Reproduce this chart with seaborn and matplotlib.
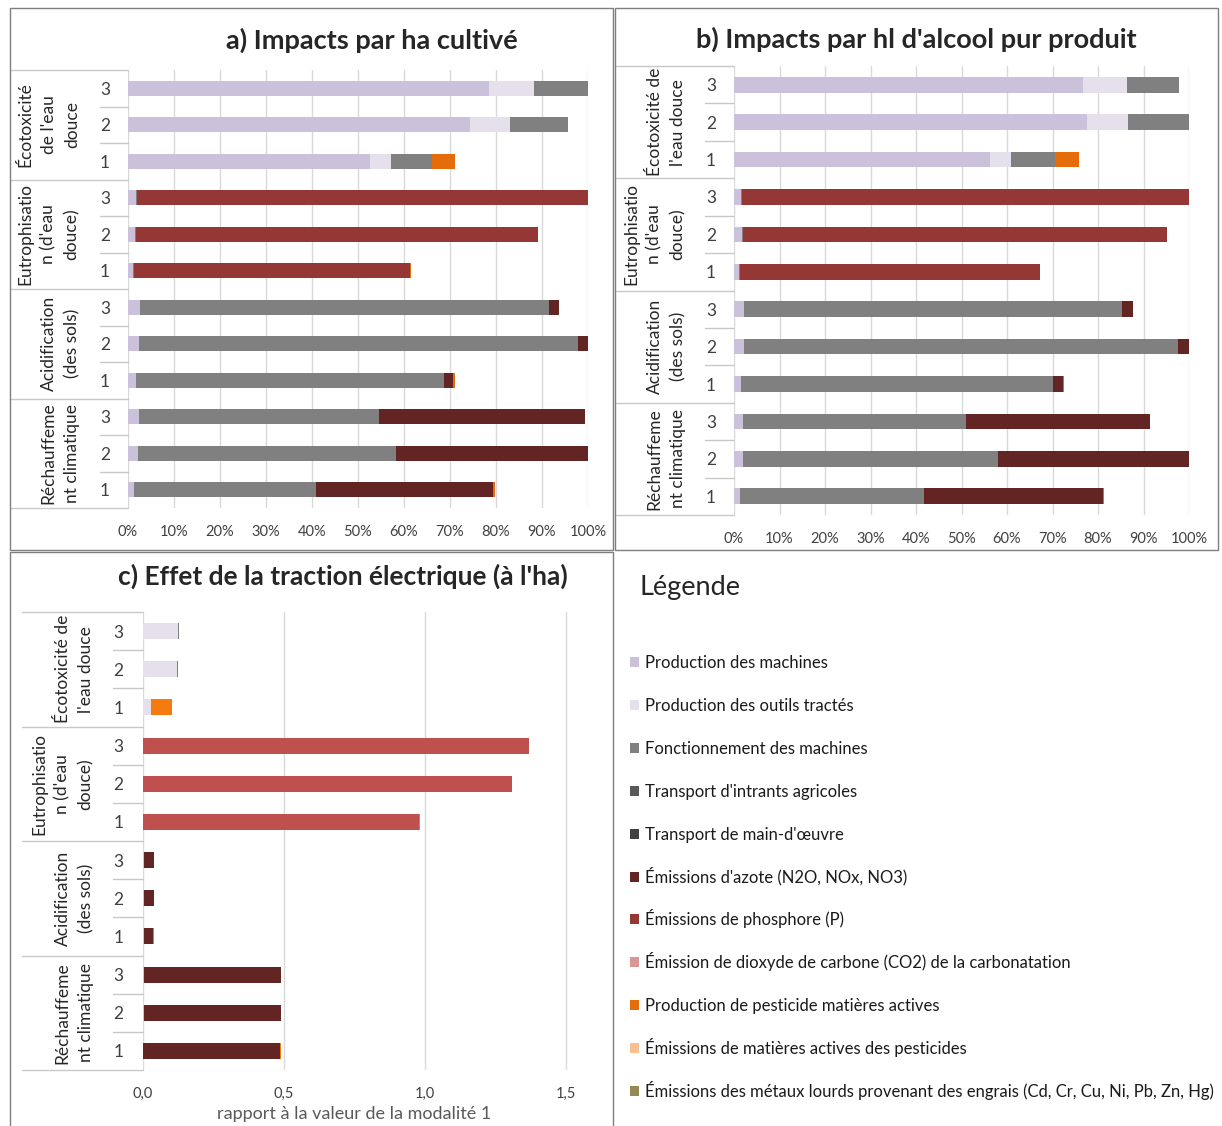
import numpy as np
import pandas as pd
import matplotlib.pyplot as plt
import seaborn as sns
from matplotlib.patches import Rectangle
from matplotlib.lines import Line2D
from matplotlib.transforms import blended_transform_factory

sns.set_style("white")
plt.rcParams['font.family'] = ['Lato', 'DejaVu Sans']

W, H = 1222, 1126

# legend entries and colours
sources = ["Production des machines", "Production des outils tractés",
           "Fonctionnement des machines", "Transport d'intrants agricoles",
           "Transport de main-d'œuvre", "Émissions d'azote (N2O, NOx, NO3)",
           "Émissions de phosphore (P)",
           "Émission de dioxyde de carbone (CO2) de la carbonatation",
           "Production de pesticide matières actives",
           "Émissions de matières actives des pesticides",
           "Émissions des métaux lourds provenant des engrais (Cd, Cr, Cu, Ni, Pb, Zn, Hg)"]
src_colors = ["#CCC1DA", "#E6E0EC", "#808080", "#595959", "#404040", "#632523",
              "#953735", "#D99694", "#E46C0A", "#FAC090", "#948A54"]

rows = ["3", "2", "1"] * 4
groups_a = ["Écotoxicité\nde l'eau\ndouce", "Eutrophisatio\nn (d'eau\ndouce)",
            "Acidification\n(des sols)", "Réchauffeme\nnt climatique"]
groups_bc = ["Écotoxicité de\nl'eau douce", "Eutrophisatio\nn (d'eau\ndouce)",
             "Acidification\n(des sols)", "Réchauffeme\nnt climatique"]

# a) per ha, % of max  (rows: Écotox 3,2,1 / Eutro 3,2,1 / Acid 3,2,1 / Réch 3,2,1)
a_machines = [78.4, 74.3, 52.7, 1.7, 1.5, 1.0, 2.5, 2.3, 1.7, 2.3, 2.2, 1.3]
a_outils = [9.8, 8.7, 4.4, 0, 0, 0, 0, 0, 0, 0, 0, 0]
a_fonct = [11.8, 12.7, 8.9, 0.3, 0.3, 0.3, 89.0, 95.6, 66.9, 52.2, 56.0, 39.6]
a_azote = [0, 0, 0, 0, 0, 0, 2.3, 2.1, 2.1, 44.9, 41.8, 38.5]
a_phos = [0, 0, 0, 98.0, 87.3, 60.1, 0, 0, 0, 0, 0, 0]
a_pest = [0, 0, 5.0, 0, 0, 0.2, 0, 0, 0.4, 0, 0, 0.3]

# b) per hl pure alcohol, % of max
b_machines = [76.6, 77.6, 56.2, 1.5, 1.7, 1.0, 2.1, 2.1, 1.5, 1.9, 1.9, 1.3]
b_outils = [9.8, 9.1, 4.7, 0, 0, 0, 0, 0, 0, 0, 0, 0]
b_fonct = [11.4, 13.3, 9.6, 0.3, 0.3, 0.3, 83.2, 95.5, 68.5, 49.0, 56.1, 40.5]
b_azote = [0, 0, 0, 0, 0, 0, 2.4, 2.4, 2.3, 40.6, 42.0, 39.4]
b_phos = [0, 0, 0, 98.2, 93.1, 65.9, 0, 0, 0, 0, 0, 0]
b_pest = [0, 0, 5.3, 0, 0, 0, 0, 0, 0.2, 0, 0, 0.2]

# c) electric traction, ratio to modality 1
c_machines = [0, 0, 0, 0, 0, 0, 0.005, 0.005, 0.003, 0.004, 0.004, 0.0]
c_outils = [0.125, 0.120, 0.029, 0, 0, 0, 0, 0, 0, 0, 0, 0]
c_fonct = [0.004, 0.003, 0, 0, 0, 0, 0, 0, 0, 0, 0, 0]
c_azote = [0, 0, 0, 0, 0, 0, 0.034, 0.034, 0.034, 0.486, 0.486, 0.487]
c_phos = [0, 0, 0, 1.37, 1.31, 0.978, 0, 0, 0, 0, 0, 0]
c_pest = [0, 0, 0.073, 0, 0, 0.003, 0, 0, 0.002, 0, 0, 0.002]

cols_ab = ["#CCC1DA", "#E6E0EC", "#808080", "#632523", "#953735", "#E46C0A"]
cols_c = ["#CCC1DA", "#E6E0EC", "#808080", "#632523", "#C0504D", "#F57A10"]

ids = [f"{g}-{r}" for g in range(4) for r in ("3", "2", "1")]


def fig_rect(x0, y0, x1, y1):
    return [x0 / W, 1 - y1 / H, (x1 - x0) / W, (y1 - y0) / H]


def draw_panel(ax, segs, cols, groups, lab_x, grp_x, inner_x, num_pad):
    cum = np.cumsum(np.array(segs, dtype=float), axis=0)
    # stack by overdrawing cumulative totals, longest first
    for k in range(len(segs) - 1, -1, -1):
        df = pd.DataFrame({"row": ids, "val": cum[k]})
        sns.barplot(data=df, x="val", y="row", order=ids, color=cols[k],
                    width=0.42, saturation=1, orient="h", errorbar=None,
                    linewidth=0, ax=ax)
    ax.set_ylim(11.5, -0.5)
    ax.set_yticks(range(12))
    ax.set_yticklabels(rows, fontsize=12.5, color="#404040")
    ax.set_xlabel("")
    ax.set_ylabel("")
    sns.despine(ax=ax, left=True, bottom=True)
    ax.grid(axis="x", color="#D9D9D9", lw=1)
    ax.set_axisbelow(True)
    ax.tick_params(axis="y", length=0, pad=num_pad)
    ax.tick_params(axis="x", length=0, pad=12, labelsize=10.5, labelcolor="#404040")

    tr = blended_transform_factory(ax.transAxes, ax.transData)
    for y in [-0.5, 2.5, 5.5, 8.5, 11.5]:
        ax.add_line(Line2D([grp_x, 0], [y, y], transform=tr, color="#C8C8C8",
                           lw=1, clip_on=False))
    for y in [0.5, 1.5, 3.5, 4.5, 6.5, 7.5, 9.5, 10.5]:
        ax.add_line(Line2D([inner_x, 0], [y, y], transform=tr, color="#C8C8C8",
                           lw=1, clip_on=False))
    for i, g in enumerate(groups):
        ax.text(lab_x, 3 * i + 1, g, transform=tr, rotation=90, ha="right",
                va="center", multialignment="center", fontsize=12.5,
                color="#262626", linespacing=1.55)


fig = plt.figure(figsize=(W / 100, H / 100), dpi=100)

# panel a
ax_a = fig.add_axes(fig_rect(128, 70, 588, 508))
draw_panel(ax_a, [a_machines, a_outils, a_fonct, a_azote, a_phos, a_pest], cols_ab,
           groups_a, (80 - 128) / 460, (10 - 128) / 460, (100 - 128) / 460, 13)
ax_a.set_xlim(0, 100)
ax_a.set_xticks(range(0, 101, 10))
ax_a.set_xticklabels([f"{v}%" for v in range(0, 101, 10)])

# panel b
ax_b = fig.add_axes(fig_rect(734, 66, 1189, 515))
draw_panel(ax_b, [b_machines, b_outils, b_fonct, b_azote, b_phos, b_pest], cols_ab,
           groups_bc, (686 - 734) / 455, (615 - 734) / 455, (705 - 734) / 455, 13)
ax_b.set_xlim(0, 100)
ax_b.set_xticks(range(0, 101, 10))
ax_b.set_xticklabels([f"{v}%" for v in range(0, 101, 10)])

# panel c
ax_c = fig.add_axes(fig_rect(143, 612, 594, 1070))
draw_panel(ax_c, [c_machines, c_outils, c_fonct, c_azote, c_phos, c_pest], cols_c,
           groups_bc, (94 - 143) / 451, (22 - 143) / 451, (113 - 143) / 451, 14)
ax_c.set_xlim(0, 1.6)
ax_c.set_xticks([0, 0.5, 1.0, 1.5])
ax_c.set_xticklabels(["0,0", "0,5", "1,0", "1,5"])
ax_c.set_xlabel("rapport à la valeur de la modalité 1", fontsize=13,
                color="#595959")
ax_c.xaxis.set_label_coords((354 - 143) / 451, -(1114 - 1070) / 458)
ax_c.xaxis.label.set_va("center")

# titles
fig.text(372 / W, 1 - 40 / H, "a) Impacts par ha cultivé", ha="center", va="center",
         fontsize=19.5, fontweight="bold")
fig.text(916 / W, 1 - 39 / H, "b) Impacts par hl d'alcool pur produit", ha="center",
         va="center", fontsize=19.5, fontweight="bold")
fig.text(343 / W, 1 - 576 / H, "c) Effet de la traction électrique (à l'ha)",
         ha="center", va="center", fontsize=19, fontweight="bold")

# panel frames
for x0, y0, x1, y1 in [(10, 8, 613, 550), (615, 8, 1218, 550), (10, 552, 613, 1140)]:
    fig.add_artist(Rectangle((x0 / W, 1 - y1 / H), (x1 - x0) / W, (y1 - y0) / H,
                             transform=fig.transFigure, fill=False,
                             edgecolor="#7F7F7F", lw=1))

# legend, evenly spaced rows on a common baseline
fig.text(640 / W, 1 - 588 / H, "Légende", ha="left", va="center", fontsize=19.5)
for i, (lab, c) in enumerate(zip(sources, src_colors)):
    yc = 662 + 42.9 * i
    fig.add_artist(Rectangle((630 / W, 1 - (yc + 5) / H), 9 / W, 10 / H,
                             transform=fig.transFigure, facecolor=c, edgecolor="none"))
    fig.text(645 / W, 1 - (yc + 6) / H, lab, ha="left", va="baseline", fontsize=12,
             color="#1a1a1a")

fig.savefig("out.png", dpi=100)
